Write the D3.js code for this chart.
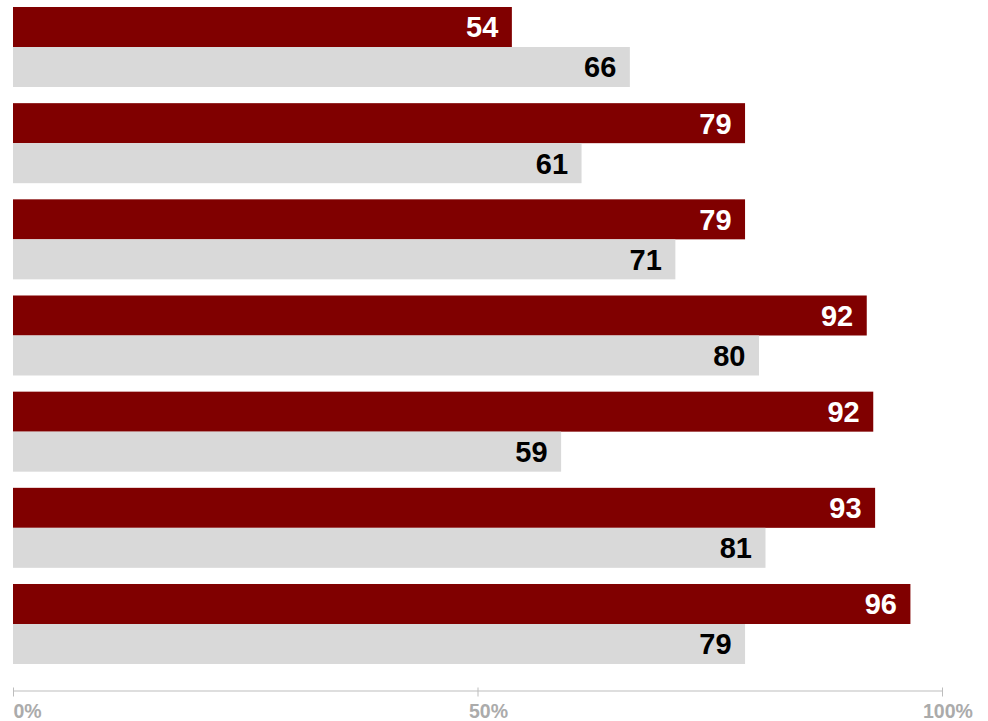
<!DOCTYPE html>
<html>
<head>
<meta charset="utf-8">
<script src="https://cdn.jsdelivr.net/npm/d3@7"></script>
<style>
  html, body { margin: 0; padding: 0; background: #fff; }
  svg { display: block; }
</style>
</head>
<body>
<svg id="chart" width="988" height="721"></svg>
<script>
// ---- data ----
const categories = ["Group 1", "Group 2", "Group 3", "Group 4", "Group 5", "Group 6", "Group 7"];
const seriesA = [53.7, 78.8, 78.8, 91.9, 92.6, 92.8, 96.6];
const seriesALabels = ["54", "79", "79", "92", "92", "93", "96"];
const seriesB = [66.4, 61.2, 71.3, 80.3, 59.0, 81.0, 78.8];
const seriesBLabels = ["66", "61", "71", "80", "59", "81", "79"];
const tickValues = [0, 50, 100];
const tickLabels = ["0%", "50%", "100%"];

// ---- chart ----
const svg = d3.select("#chart");
const colorA = "#800000", colorB = "#d9d9d9";

const x = d3.scaleLinear().domain([0, 100]).range([13, 942]);
const y = d3.scaleBand().domain(categories).range([7, 664]).paddingInner(0.168).paddingOuter(0);
const sub = d3.scaleBand().domain(["A", "B"]).range([0, y.bandwidth()]).padding(0);

const rows = categories.map((c, i) => ({
  cat: c,
  bars: [
    { key: "A", v: seriesA[i], label: seriesALabels[i] },
    { key: "B", v: seriesB[i], label: seriesBLabels[i] }
  ]
}));

const g = svg.selectAll("g.row").data(rows).join("g")
  .attr("class", "row")
  .attr("transform", d => `translate(0,${y(d.cat)})`);

g.selectAll("rect").data(d => d.bars).join("rect")
  .attr("x", x(0))
  .attr("y", d => sub(d.key))
  .attr("width", d => x(d.v) - x(0))
  .attr("height", sub.bandwidth())
  .attr("fill", d => d.key === "A" ? colorA : colorB);

g.selectAll("text").data(d => d.bars).join("text")
  .attr("x", d => x(d.v) - 13.5)
  .attr("y", d => sub(d.key) + sub.bandwidth() / 2)
  .attr("dy", "0.36em")
  .attr("text-anchor", "end")
  .attr("font-family", "'Liberation Sans', Arial, sans-serif")
  .attr("font-weight", "bold")
  .attr("font-size", 29)
  .attr("fill", d => d.key === "A" ? "#ffffff" : "#000000")
  .text(d => d.label);

// ---- axis ----
const axis = d3.axisBottom(x)
  .tickValues(tickValues)
  .tickFormat((d, i) => tickLabels[i])
  .tickSizeOuter(0);

const ax = svg.append("g")
  .attr("transform", "translate(0,690.5)")
  .call(axis);

ax.select(".domain").attr("stroke", "#bdbdbd").attr("stroke-width", 1);
ax.selectAll(".tick line").attr("stroke", "#bdbdbd").attr("y1", -3).attr("y2", 6);
const dxs = [0, -9, -19.5];
ax.selectAll(".tick text")
  .attr("text-anchor", "start")
  .attr("y", 27.5)
  .attr("dy", 0)
  .attr("dx", (d, i) => dxs[i])
  .attr("font-family", "'Liberation Sans', Arial, sans-serif")
  .attr("font-weight", "bold")
  .attr("font-size", 19.5)
  .attr("fill", "#ababab");
</script>
</body>
</html>
